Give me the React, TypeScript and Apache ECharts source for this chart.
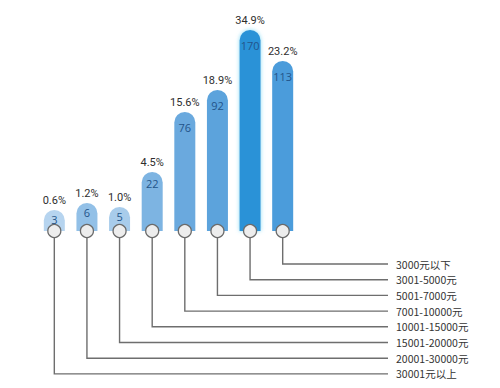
import React, { useEffect, useRef } from "react";
import * as echarts from "echarts";

// Income brackets (top label = last bar ... bottom label = first bar)
const categories = [
  "30001元以上",
  "20001-30000元",
  "15001-20000元",
  "10001-15000元",
  "7001-10000元",
  "5001-7000元",
  "3001-5000元",
  "3000元以下",
];
const counts = [3, 6, 5, 22, 76, 92, 170, 113];
const percents = ["0.6%", "1.2%", "1.0%", "4.5%", "15.6%", "18.9%", "34.9%", "23.2%"];
// drawn bar lengths as they appear in the picture (not proportional to counts)
const barHeights = [21, 28, 24, 59, 119, 141, 201, 170];
const barColors = [
  "#b6d4ef",
  "#92c0e7",
  "#a8cceb",
  "#7db4e2",
  "#6aa9de",
  "#5ca3dc",
  "#2b92d7",
  "#4b9cdb",
];

export default function App() {
  const ref = useRef<HTMLDivElement>(null);
  useEffect(() => {
    if (!ref.current) return;
    const chart = echarts.init(ref.current, null, { renderer: "svg" });
    const n = categories.length;
    chart.setOption({
      animation: false,
      backgroundColor: "#ffffff",
      grid: { left: 38, right: 201, top: 30, bottom: 157 },
      xAxis: {
        type: "category",
        data: categories,
        show: false,
      },
      yAxis: { type: "value", min: 0, max: 201, show: false },
      series: [
        {
          type: "custom",
          clip: false,
          z: 1,
          data: categories.map((c, i) => [i, 0]),
          renderItem: (params: any, api: any) => {
            const i = params.dataIndex;
            const p = api.coord([i, 0]);
            const lineY = p[1] + 33 + (n - 1 - i) * 15.7;
            const endX = 388;
            return {
              type: "group",
              children: [
                {
                  type: "polyline",
                  shape: {
                    points: [
                      [p[0], p[1] + 5],
                      [p[0], lineY],
                      [endX, lineY],
                    ],
                  },
                  style: { stroke: "#6e6e6e", lineWidth: 1.4, fill: null },
                },
                {
                  type: "text",
                  style: {
                    text: categories[i],
                    x: endX + 8,
                    y: lineY,
                    textVerticalAlign: "middle",
                    verticalAlign: "middle",
                    fill: "#333333",
                    font: '10.5px "Noto Sans CJK SC", "Noto Sans", sans-serif',
                  },
                },
              ],
            };
          },
        },
        {
          type: "bar",
          z: 2,
          barWidth: 21,
          data: barHeights.map((h, i) => ({
            value: h,
            itemStyle: {
              color: barColors[i],
              borderRadius: [10.5, 10.5, 0, 0],
              shadowBlur: i === 6 ? 4 : 0,
              shadowColor: i === 6 ? "rgba(120,215,245,0.9)" : "transparent",
            },
            label: { distance: h > 100 ? 10 : h > 50 ? 6 : 4 },
          })),
          label: {
            show: true,
            position: "insideTop",
            distance: 5,
            formatter: (p: any) => String(counts[p.dataIndex]),
            color: "#23548a",
            fontSize: 11,
            fontFamily: '"Open Sans", "Noto Sans", sans-serif',
          },
        },
        {
          type: "bar",
          z: 3,
          barWidth: 21,
          barGap: "-100%",
          data: barHeights,
          itemStyle: { color: "transparent" },
          label: {
            show: true,
            position: "top",
            distance: 4,
            formatter: (p: any) => percents[p.dataIndex],
            color: "#2e2e2e",
            fontSize: 11,
            fontFamily: '"Liberation Sans Narrow", "Roboto", sans-serif',
          },
        },
        {
          type: "scatter",
          z: 5,
          symbol: "circle",
          symbolSize: 13,
          data: categories.map((c, i) => [i, 0]),
          itemStyle: {
            color: "#ededed",
            borderColor: "#6b6b6b",
            borderWidth: 1.3,
            opacity: 1,
          },
          silent: true,
        },
      ],
    });
    return () => chart.dispose();
  }, []);
  return <div ref={ref} style={{ width: 500, height: 388, position: "absolute", left: 0, top: 0 }} />;
}
